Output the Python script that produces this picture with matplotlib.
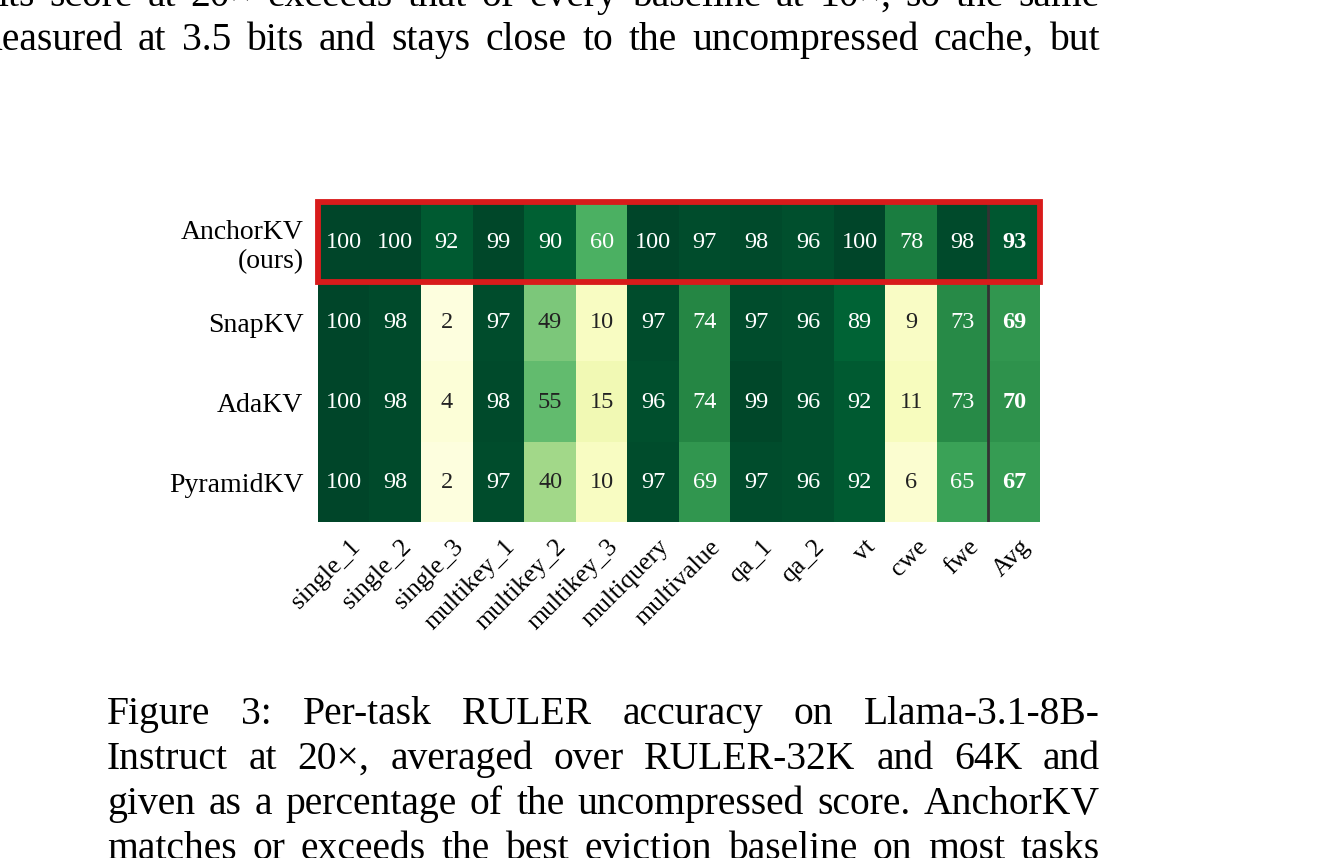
import matplotlib
matplotlib.use("Agg")
import matplotlib.pyplot as plt
import numpy as np
from matplotlib.patches import Rectangle
from matplotlib.transforms import IdentityTransform, ScaledTranslation

plt.rcParams['font.family'] = ['Liberation Serif', 'DejaVu Serif']

# ---------------- data ----------------
tasks = ['single_1', 'single_2', 'single_3', 'multikey_1', 'multikey_2', 'multikey_3',
         'multiquery', 'multivalue', 'qa_1', 'qa_2', 'vt', 'cwe', 'fwe', 'Avg']
methods = ['AnchorKV\n(ours)', 'SnapKV', 'AdaKV', 'PyramidKV']
anchorkv = [100, 100, 92, 99, 90, 60, 100, 97, 98, 96, 100, 78, 98, 93]
snapkv = [100, 98, 2, 97, 49, 10, 97, 74, 97, 96, 89, 9, 73, 69]
adakv = [100, 98, 4, 98, 55, 15, 96, 74, 99, 96, 92, 11, 73, 70]
pyramidkv = [100, 98, 2, 97, 40, 10, 97, 69, 97, 96, 92, 6, 65, 67]

body_lines = [
    "its score at 20\u00d7 exceeds that of every baseline at 10\u00d7, so the same",
    "measured at 3.5 bits and stays close to the uncompressed cache, but",
]
caption_lines = [
    "Figure 3: Per-task RULER accuracy on Llama-3.1-8B-",
    "Instruct at 20\u00d7, averaged over RULER-32K and 64K and",
    "given as a percentage of the uncompressed score. AnchorKV",
    "matches or exceeds the best eviction baseline on most tasks",
]

# ---------------- figure ----------------
W, H = 1326, 858
fig = plt.figure(figsize=(W / 100, H / 100), dpi=100)
fig.patch.set_facecolor('white')

ax = fig.add_axes([318 / W, 1 - 522 / H, (1040 - 318) / W, (522 - 202) / H])
data = np.array([anchorkv, snapkv, adakv, pyramidkv], dtype=float)
ax.imshow(data, cmap='YlGn', vmin=0, vmax=100, aspect='auto', interpolation='nearest')

ncols = len(tasks)
for i in range(data.shape[0]):
    for j in range(ncols):
        v = data[i, j]
        col = 'white' if v >= 57 else '#222222'
        ax.text(j, i, f"{int(v)}", ha='center', va='center', color=col,
                fontsize=17.5, fontweight='bold' if j == ncols - 1 else 'normal')

ax.set_xticks(range(ncols))
ax.set_xticklabels(tasks, rotation=45, ha='right', rotation_mode='anchor', fontsize=18.5)
ax.set_yticks(range(len(methods)))
ax.set_yticklabels(methods, fontsize=20)
for lab in ax.get_yticklabels():
    lab.set_linespacing(1.2)
ax.tick_params(axis='both', length=0)
ax.tick_params(axis='y', pad=10.5)
ax.tick_params(axis='x', pad=10)
off = ScaledTranslation(5 / 100, 0, fig.dpi_scale_trans)
for lab in ax.get_xticklabels():
    lab.set_transform(lab.get_transform() + off)
for s in ax.spines.values():
    s.set_visible(False)

ax.axvline(ncols - 1.5, color='#333333', lw=2)
ax.add_patch(Rectangle((-0.5, -0.5), ncols, 1, fill=False, ec='#d81b1b', lw=4.2,
                       clip_on=False, zorder=5))

# ---------------- justified body text ----------------
renderer = fig.canvas.get_renderer()
FS = 28.5


def justify(line, x0, x1, base_y):
    words = line.split(' ')
    ts = [fig.text(0, 0, w, fontsize=FS, va='baseline', ha='left',
                   transform=IdentityTransform()) for w in words]
    widths = [t.get_window_extent(renderer).width for t in ts]
    gap = (x1 - x0 - sum(widths)) / (len(words) - 1)
    x = x0
    for t, w in zip(ts, widths):
        t.set_position((x, H - base_y))
        x += w + gap


justify(body_lines[0], -3, 1100, 6)
justify(body_lines[1], -29, 1100, 50)
for k, line in enumerate(caption_lines):
    justify(line, 107, 1100, 724 + 45 * k)

fig.savefig('out.png', dpi=100)
